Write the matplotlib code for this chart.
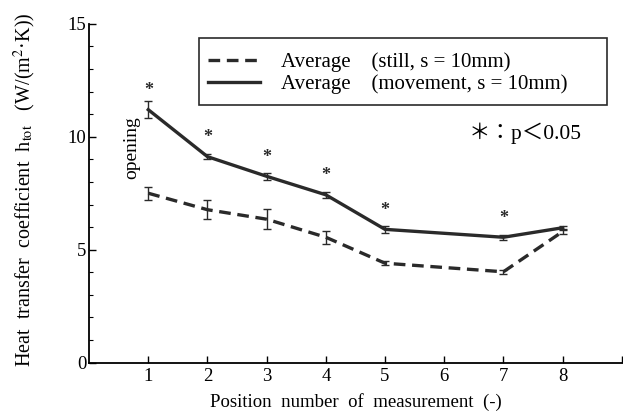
import matplotlib.pyplot as plt
from matplotlib.lines import Line2D
from matplotlib.patches import Rectangle
import numpy as np

plt.rcParams['font.family'] = ['Liberation Serif', 'Noto Sans CJK JP']
plt.rcParams['mathtext.fontset'] = 'stix'

# 測定位置 (6 は欠測)
positions = [1, 2, 3, 4, 5, 7, 8]
still_mean = [7.5, 6.77, 6.35, 5.55, 4.4, 4.02, 5.8]
still_err = [0.28, 0.42, 0.45, 0.28, 0.1, 0.08, 0.12]
move_mean = [11.2, 9.12, 8.25, 7.43, 5.9, 5.55, 5.97]
move_err = [0.37, 0.1, 0.15, 0.12, 0.14, 0.12, 0.08]
# 有意差のある位置
sig_positions = [1, 2, 3, 4, 5, 7]

xtick_pos = [1, 2, 3, 4, 5, 6, 7, 8, 9]
xtick_labels = ['1', '2', '3', '4', '5', '6', '7', '8', '']

col = '#2a2a2a'
dash = (0, (3.5, 2))

fig = plt.figure(figsize=(6.23, 4.12), dpi=100)
ax = fig.add_axes([0.143, 0.12, 0.855, 0.822])

ax.errorbar(positions, still_mean, yerr=still_err, color=col, lw=2.4,
            ls=dash, capsize=3, elinewidth=1.0, capthick=1.0)
ax.errorbar(positions, move_mean, yerr=move_err, color=col, lw=2.4,
            ls='-', capsize=3, elinewidth=1.0, capthick=1.0)

# アスタリスク
for p in sig_positions:
    i = positions.index(p)
    ax.text(p, move_mean[i] + 0.85, '*', ha='center', va='center',
            fontsize=13, fontweight='bold', color=col)

ax.text(0.72, 9.5, 'opening', rotation=90, ha='center', va='center', fontsize=14)
ax.text(6.42, 10.17, '＊：p＜0.05', ha='left', va='center', fontsize=15.5)

ax.set_xlim(0, 9)
ax.set_ylim(0, 15)
ax.set_xticks(xtick_pos)
ax.set_xticklabels(xtick_labels)
ax.set_yticks([0, 5, 10, 15])
ax.set_yticks(np.arange(0, 16, 1), minor=True)
ax.tick_params(axis='both', direction='in', labelsize=13.5, width=1.0, length=5, pad=4)
ax.tick_params(axis='y', which='minor', direction='in', length=3, width=0.8)
ax.tick_params(axis='y', pad=2)
ax.spines['top'].set_visible(False)
ax.spines['right'].set_visible(False)
ax.spines['left'].set_linewidth(1.3)
ax.spines['bottom'].set_linewidth(1.3)

ax.set_xlabel('Position  number  of  measurement  (-)', fontsize=13.5)
ax.xaxis.set_label_coords(0.5, -0.09)
ax.set_ylabel(r'Heat  transfer  coefficient  h$_{\rm tot}$   (W/(m$^2$·K))', fontsize=14.5)
ax.yaxis.set_label_coords(-0.095, 0.51)

# 凡例 (枠は別に描く)
handles = [Line2D([], [], color=col, lw=2.4, ls=dash),
           Line2D([], [], color=col, lw=2.4, ls='-')]
labels = ['Average\u3000(still, s = 10mm)', 'Average\u3000(movement, s = 10mm)']
leg = fig.legend(handles, labels, loc='center left',
                 bbox_to_anchor=(208 / 623, 1 - 73.5 / 412),
                 fontsize=15, frameon=False, handlelength=2.5,
                 handletextpad=1.0, borderpad=0, labelspacing=0.1,
                 borderaxespad=0)
fig.add_artist(Rectangle((199 / 623, 1 - 105 / 412), 408 / 623, 67 / 412,
                         transform=fig.transFigure, fill=False,
                         edgecolor=col, lw=1.2))

fig.savefig('out.png', dpi=100)
